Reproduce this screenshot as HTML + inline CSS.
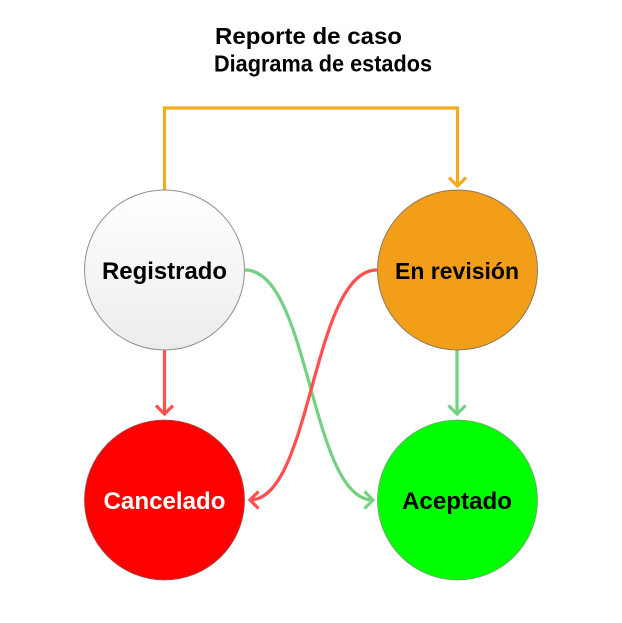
<!DOCTYPE html>
<html>
<head>
<meta charset="utf-8">
<style>
  html, body { margin: 0; padding: 0; background: #ffffff; }
  svg { display: block; }
  text { font-family: "Liberation Sans", Arial, sans-serif; font-weight: bold; }
</style>
</head>
<body>
<svg width="622" height="623" viewBox="0 0 622 623" xmlns="http://www.w3.org/2000/svg">
  <defs>
    <linearGradient id="g1" x1="0" y1="0" x2="0" y2="1">
      <stop offset="0" stop-color="#ffffff"/>
      <stop offset="1" stop-color="#ececec"/>
    </linearGradient>
  </defs>
  <rect width="622" height="623" fill="#ffffff"/>

  <!-- Title -->
  <text x="215" y="44" font-size="23" textLength="187" lengthAdjust="spacingAndGlyphs" fill="#000">Reporte de caso</text>
  <text x="214" y="71.5" font-size="23" textLength="218" lengthAdjust="spacingAndGlyphs" fill="#000">Diagrama de estados</text>

  <!-- Orange connector Registrado -> En revisión -->
  <path d="M164.5 190 L164.5 108 L457.5 108 L457.5 186" fill="none" stroke="#F5AB1F" stroke-width="3.2"/>
  <path d="M449 177.5 L457.5 186 L466 177.5" fill="none" stroke="#F5AB1F" stroke-width="3.2"/>

  <!-- Green curve Registrado -> Aceptado -->
  <path d="M245 270 C310 270 310 500 373 500" fill="none" stroke="#74D083" stroke-width="3.2"/>
  <path d="M364.5 491.5 L373 500 L364.5 508.5" fill="none" stroke="#74D083" stroke-width="3.2"/>

  <!-- Red curve En revisión -> Cancelado -->
  <path d="M377 270 C312 270 312 500 250 500" fill="none" stroke="#FF5050" stroke-width="3.2"/>
  <path d="M258.5 491.5 L250 500 L258.5 508.5" fill="none" stroke="#FF5050" stroke-width="3.2"/>

  <!-- Red straight Registrado -> Cancelado -->
  <path d="M164.5 350 L164.5 414" fill="none" stroke="#FF5050" stroke-width="3.2"/>
  <path d="M156 405.5 L164.5 414 L173 405.5" fill="none" stroke="#FF5050" stroke-width="3.2"/>

  <!-- Green straight En revisión -> Aceptado -->
  <path d="M457 350 L457 414" fill="none" stroke="#74D083" stroke-width="3.2"/>
  <path d="M448.5 405.5 L457 414 L465.5 405.5" fill="none" stroke="#74D083" stroke-width="3.2"/>

  <!-- Nodes -->
  <circle cx="164.5" cy="270" r="80" fill="url(#g1)" stroke="#8e8e8e" stroke-width="1"/>
  <circle cx="457.5" cy="270" r="80" fill="#F39E18" stroke="#8a7a60" stroke-width="1"/>
  <circle cx="164.5" cy="500" r="80" fill="#FF0000" stroke="#a05050" stroke-width="0.8"/>
  <circle cx="457.5" cy="500" r="80" fill="#00FF00" stroke="#7aa07a" stroke-width="0.8"/>

  <text x="102" y="279" font-size="24" textLength="125" lengthAdjust="spacingAndGlyphs" fill="#000">Registrado</text>
  <text x="395" y="279" font-size="23" textLength="124" lengthAdjust="spacingAndGlyphs" fill="#000">En revisión</text>
  <text x="103.5" y="509" font-size="24" textLength="122" lengthAdjust="spacingAndGlyphs" fill="#fff">Cancelado</text>
  <text x="402" y="509" font-size="24" textLength="110" lengthAdjust="spacingAndGlyphs" fill="#000">Aceptado</text>
</svg>
</body>
</html>
